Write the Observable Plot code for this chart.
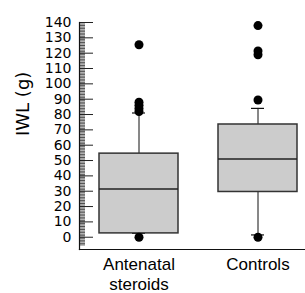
<!DOCTYPE html>
<html>
<head>
<meta charset="utf-8">
<script src="https://cdn.jsdelivr.net/npm/d3@7"></script>
<script src="https://cdn.jsdelivr.net/npm/@observablehq/plot@0.6"></script>
<style>
  html, body { margin: 0; padding: 0; background: white; }
</style>
</head>
<body>
<div id="chart"></div>
<script>
// Data
const groups = ["Antenatal steroids", "Controls"];
const xLabels = ["Antenatal\nsteroids", "Controls"];
const q1 = [2.5, 29.5];
const medians = [31.5, 51];
const q3 = [54.5, 73.5];
const whiskerLow = [2.5, 1.5];
const whiskerHigh = [81, 84];
const outlierGroup = ["Antenatal steroids", "Antenatal steroids", "Antenatal steroids", "Antenatal steroids", "Antenatal steroids", "Antenatal steroids", "Controls", "Controls", "Controls", "Controls", "Controls"];
const outlierValue = [0, 82, 84, 86, 88, 125.5, 0, 89.5, 119, 121.5, 138];
const yTicks = d3.range(0, 141, 10);
const minorTicks = d3.range(-5, 141, 1);
const yLabel = ["IWL (g)"];

const idx = d3.range(groups.length);
const outliers = outlierValue.map((v, i) => ({g: outlierGroup[i], v}));

const W = 305, H = 293, ML = 79, MR = 0, MT = 22, MB = 44;
const frameW = W - ML - MR;

const chart = Plot.plot({
  width: W,
  height: H,
  marginLeft: ML,
  marginRight: MR,
  marginTop: MT,
  marginBottom: MB,
  x: {type: "band", domain: groups, paddingInner: 0.34, paddingOuter: 0.113, align: 0.7},
  y: {domain: [-8, 140]},
  style: {fontFamily: "DejaVu Sans", background: "white", color: "black"},
  marks: [
    Plot.ruleY(minorTicks, {y: d => d, insetRight: frameW - 6, stroke: "#222", strokeWidth: 0.8}),
    Plot.ruleY(yTicks, {y: d => d, insetRight: frameW - 14, stroke: "#222", strokeWidth: 1}),
    Plot.ruleX(idx, {x: i => groups[i], y1: i => q3[i], y2: i => whiskerHigh[i], stroke: "#111", strokeWidth: 1}),
    Plot.ruleX(idx, {x: i => groups[i], y1: i => whiskerLow[i], y2: i => q1[i], stroke: "#111", strokeWidth: 1}),
    Plot.tickY(idx, {x: i => groups[i], y: i => whiskerHigh[i], insetLeft: 33, insetRight: 33, stroke: "#111", strokeWidth: 1.2}),
    Plot.tickY(idx, {x: i => groups[i], y: i => whiskerLow[i], insetLeft: 33, insetRight: 33, stroke: "#111", strokeWidth: 1.2}),
    Plot.barY(idx, {x: i => groups[i], y1: i => q1[i], y2: i => q3[i], fill: "#cccccc", stroke: "#333", strokeWidth: 1.5}),
    Plot.tickY(idx, {x: i => groups[i], y: i => medians[i], stroke: "#222", strokeWidth: 1.5}),
    Plot.dot(outliers, {x: "g", y: "v", r: 4.5, fill: "black", stroke: "none"}),
    Plot.axisY(yTicks, {tickSize: 0, tickPadding: 8, fontSize: 14, label: null}),
    Plot.text(yLabel, {text: d => d, frameAnchor: "left", dx: -56.5, dy: 0, rotate: -90, fontSize: 18, fill: "black"}),
    Plot.axisX({tickSize: 0, tickPadding: 7, fontSize: 17, fontFamily: "Liberation Sans", lineHeight: 1.15, tickFormat: d => xLabels[groups.indexOf(d)], label: null}),
    Plot.frame({anchor: "left", stroke: "#111", strokeWidth: 1.2}),
    Plot.frame({anchor: "bottom", stroke: "#111", strokeWidth: 1.2})
  ]
});
document.getElementById("chart").appendChild(chart);
</script>
</body>
</html>
